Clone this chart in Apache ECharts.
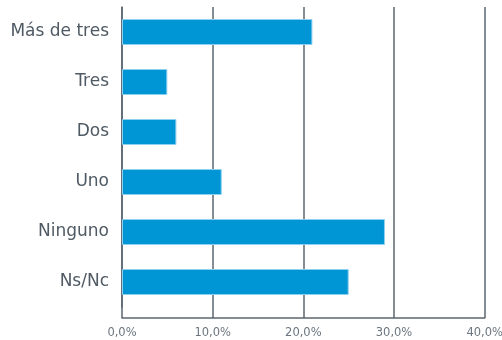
<!DOCTYPE html>
<html>
<head>
<meta charset="utf-8">
<script src="https://cdn.jsdelivr.net/npm/echarts@6/dist/echarts.min.js"></script>
<style>
  html, body { margin: 0; padding: 0; background: #fff; }
  #chart { width: 502px; height: 340px; }
</style>
</head>
<body>
<div id="chart"></div>
<script>
// Number of members answers, top to bottom
const categories = ['Más de tres', 'Tres', 'Dos', 'Uno', 'Ninguno', 'Ns/Nc'];
const shares = [21, 5, 6, 11, 29, 25];
const tickValues = [0, 10, 20, 30, 40];

const gridColor = '#5b6670';
const chart = echarts.init(document.getElementById('chart'), null, { renderer: 'canvas' });

chart.setOption({
  animation: false,
  grid: {
    left: 122, right: 17.3, top: 7, bottom: 33,
    containLabel: false,
    outerBoundsMode: 'none'
  },
  xAxis: {
    type: 'value',
    min: tickValues[0],
    max: tickValues[tickValues.length - 1],
    interval: tickValues[1] - tickValues[0],
    offset: 11,
    axisLine: { show: true, lineStyle: { color: gridColor, width: 1.5 } },
    axisTick: { show: true, inside: true, length: 11, lineStyle: { color: gridColor, width: 1.5 } },
    splitLine: { show: true, lineStyle: { color: gridColor, width: 1.5 } },
    axisLabel: {
      color: '#6b7680',
      fontFamily: 'DejaVu Sans',
      fontSize: 11.5,
      margin: 9,
      hideOverlap: false,
      formatter: v => v.toFixed(1).replace('.', ',') + '%'
    }
  },
  yAxis: {
    type: 'category',
    inverse: true,
    data: categories,
    axisLine: { show: true, lineStyle: { color: gridColor, width: 1.5 } },
    axisTick: { show: false },
    axisLabel: {
      color: '#4f5a64',
      fontFamily: 'DejaVu Sans',
      fontSize: 17,
      margin: 13
    }
  },
  series: [{
    type: 'bar',
    data: shares,
    barWidth: 26,
    itemStyle: { color: '#0095d5', borderColor: '#8fd0ef', borderWidth: 1 }
  }]
});
</script>
</body>
</html>
